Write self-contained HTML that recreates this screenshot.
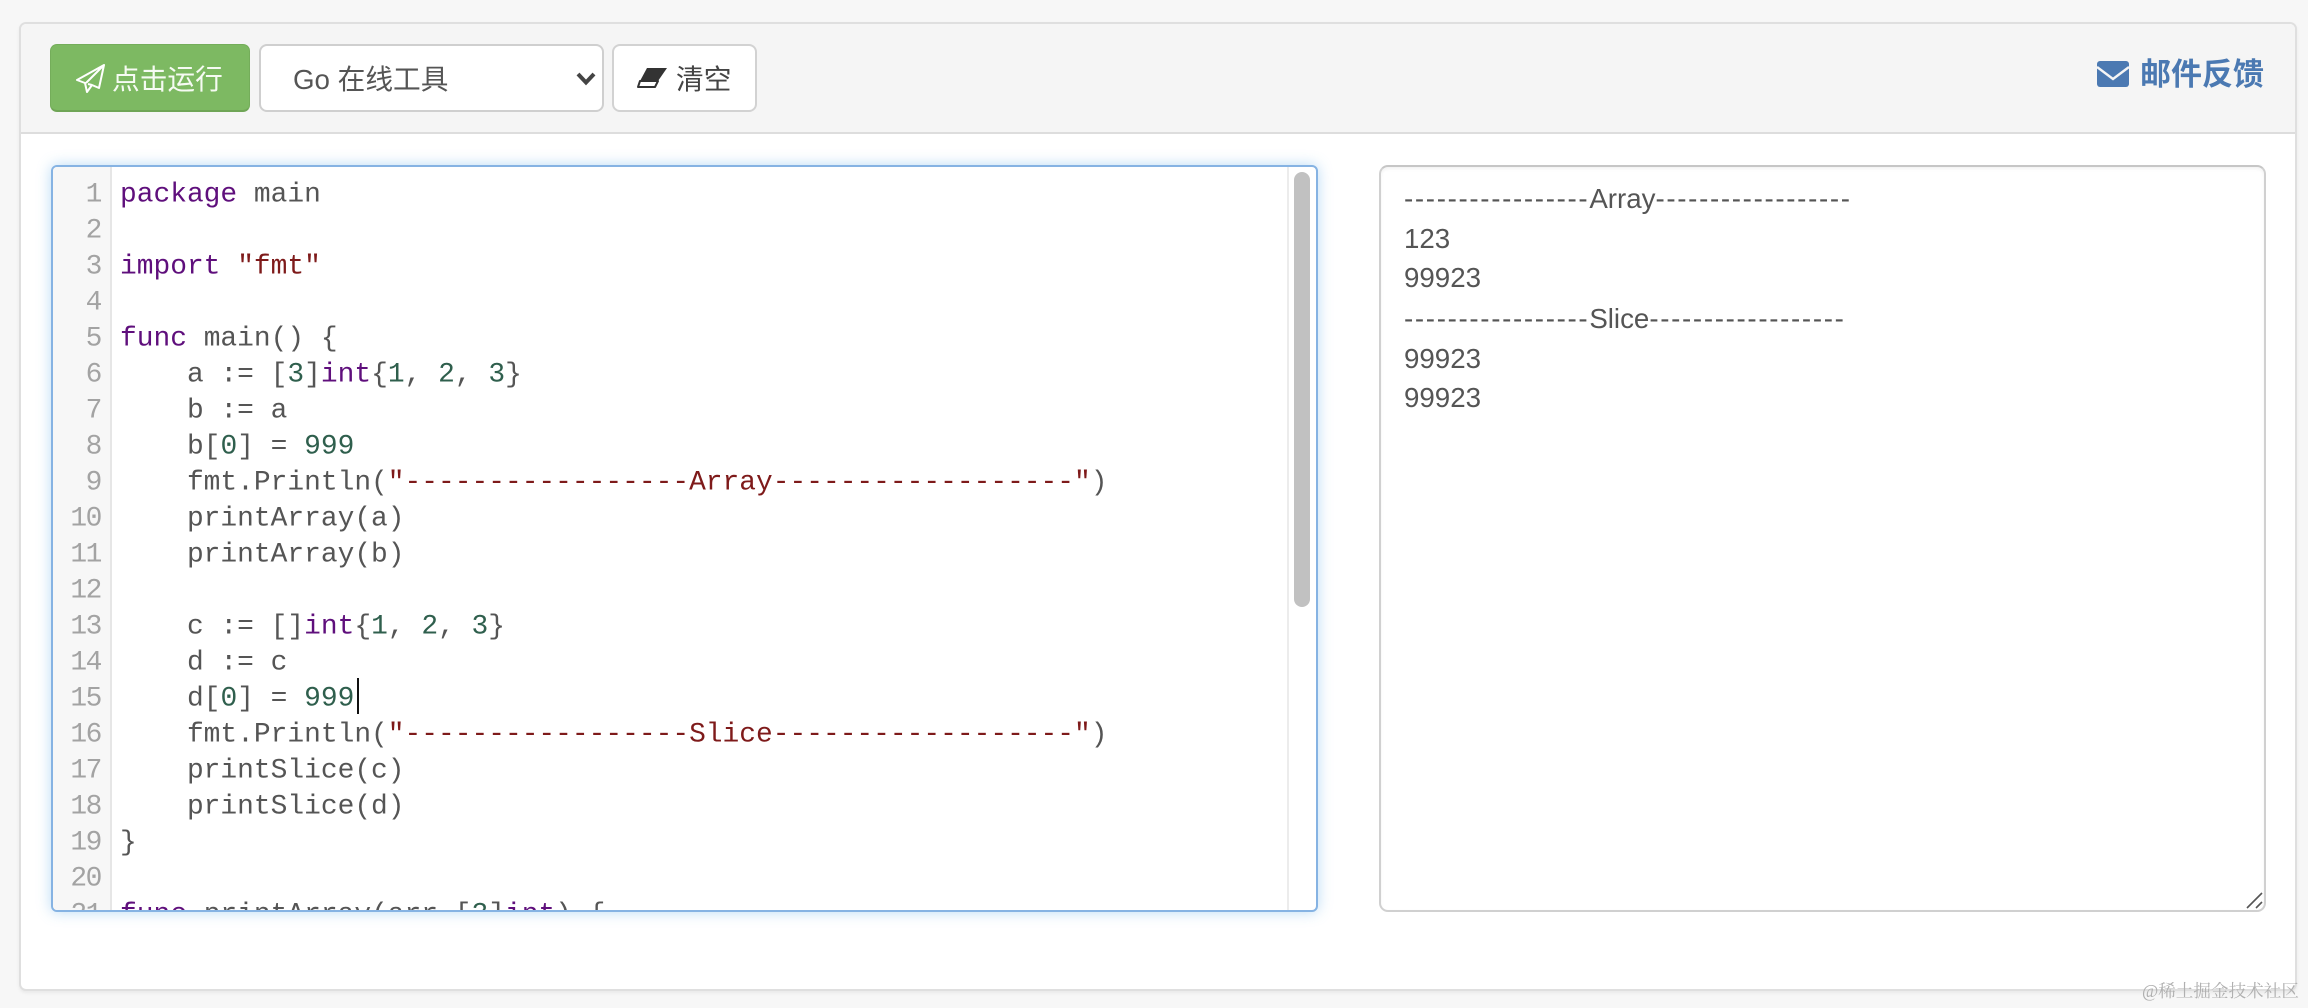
<!DOCTYPE html>
<html lang="zh"><head><meta charset="utf-8"><title>Go 在线工具</title>
<style>
html,body{margin:0;padding:0;width:2308px;height:1008px;overflow:hidden;background:#f7f7f7}
div,span{box-sizing:border-box}
.abs{position:absolute}
#panel{left:19px;top:22px;width:2278px;height:969px;background:#fff;border:2px solid #dfdfdf;border-radius:7px;box-shadow:0 2px 3px rgba(0,0,0,.06)}
#head{left:21px;top:24px;width:2274px;height:110px;background:#f5f5f5;border-bottom:2px solid #dddddd;border-radius:5px 5px 0 0}
.sans{font-family:"Liberation Sans","Noto Sans CJK SC",sans-serif;font-size:27.7px;white-space:pre}
#run{left:50px;top:44px;width:200px;height:68px;background:#7db962;border:1px solid #74ad5a;border-bottom:2px solid #6fa556;border-radius:7px}
#sel{left:259px;top:44px;width:345px;height:68px;background:#fff;border:2px solid #cfcfcf;border-radius:8px}
#clr{left:612px;top:44px;width:145px;height:68px;background:#fff;border:2px solid #d2d2d2;border-radius:8px}
#editor{left:51px;top:165px;width:1267px;height:747px;background:#fff;border:2px solid #86b3e3;border-radius:6px;box-shadow:0 0 14px rgba(102,175,233,.45);overflow:hidden}
#gut{left:0;top:0;width:59px;height:743px;background:#f7f7f7;border-right:2px solid #e6e6e6}
#track{left:1234px;top:0;width:2px;height:743px;background:#ececec}
#thumb{left:1241px;top:5px;width:16px;height:435px;background:#c1c1c1;border-radius:8px}
.ln,.cl{position:absolute;height:36px;line-height:36px;font-family:"Liberation Mono",monospace;font-size:27.9px;white-space:pre;transform:translateY(1.5px)}
.ln{left:0;width:48px;text-align:right;color:#a3a3a3;letter-spacing:-1.4px}
.cl{left:67px;color:#555}
.k{color:#5f0f7c}.s{color:#7e1a1a}.n{color:#2f5f4d}
#out{left:1379px;top:165px;width:887px;height:747px;background:#fff;border:2px solid #d0d0d0;border-top-color:#c6c6c6;border-radius:9px;box-shadow:inset 0 2px 3px rgba(0,0,0,.05)}
.o{position:absolute;left:1404px;height:40px;line-height:40px;color:#555}
.d{letter-spacing:1.68px}
#mail{left:2140px;top:50px;height:50px;line-height:50px;font-family:"Liberation Sans","Noto Sans CJK SC",sans-serif;font-weight:700;font-size:31px;color:#4b79b2;white-space:pre}
#wm{left:2142px;top:980px;height:22px;line-height:22px;font-family:"Liberation Serif","Noto Serif CJK SC",serif;font-size:17.6px;color:#b0b0b0;white-space:pre}
</style></head><body>
<div class="abs" id="panel"></div>
<div class="abs" id="head"></div>

<div class="abs" id="run"></div>
<svg class="abs" style="left:76px;top:64px" width="30" height="29" viewBox="0 0 30 29"><path d="M28 1 L1 16 L9 19 L11 28 L16 21 L23 24 Z M28 1 L10 19 M16 21 L12 20" fill="none" stroke="#fff" stroke-width="2" stroke-linejoin="round"/></svg>
<div class="abs sans" style="left:112px;top:60px;height:40px;line-height:40px;color:#f6fbf3">点击运行</div>

<div class="abs" id="sel"></div>
<div class="abs sans" style="left:293px;top:60px;height:40px;line-height:40px;color:#555">Go 在线工具</div>
<svg class="abs" style="left:575px;top:72px" width="22" height="14" viewBox="0 0 22 14"><path d="M3 2 L11 10.5 L19 2" fill="none" stroke="#444" stroke-width="4"/></svg>

<div class="abs" id="clr"></div>
<svg class="abs" style="left:636px;top:67px" width="33" height="22" viewBox="0 0 33 22"><path d="M11 1 H31 L22 14 H4 Z" fill="#333"/><path d="M4 14 H22 L19 20 H2 Z" fill="#fff" stroke="#333" stroke-width="2" stroke-linejoin="round"/></svg>
<div class="abs sans" style="left:676px;top:60px;height:40px;line-height:40px;color:#444">清空</div>

<svg class="abs" style="left:2097px;top:61px" width="33" height="26" viewBox="0 0 33 26"><rect x="0" y="0" width="32" height="26" rx="3" fill="#4b79b2"/><path d="M0 6 L16 18 L32 6" fill="none" stroke="#f5f5f5" stroke-width="2.4"/></svg>
<div class="abs" id="mail">邮件反馈</div>

<div class="abs" id="editor">
  <div class="abs" id="gut"></div>
  <div class="abs" id="track"></div>
  <div class="abs" id="thumb"></div>
  <div class="ln" style="top:9px">1</div><div class="cl" style="top:9px"><span class="k">package</span> main</div>
  <div class="ln" style="top:45px">2</div>
  <div class="ln" style="top:81px">3</div><div class="cl" style="top:81px"><span class="k">import</span> <span class="s">"fmt"</span></div>
  <div class="ln" style="top:117px">4</div>
  <div class="ln" style="top:153px">5</div><div class="cl" style="top:153px"><span class="k">func</span> main() {</div>
  <div class="ln" style="top:189px">6</div><div class="cl" style="top:189px">    a := [<span class="n">3</span>]<span class="k">int</span>{<span class="n">1</span>, <span class="n">2</span>, <span class="n">3</span>}</div>
  <div class="ln" style="top:225px">7</div><div class="cl" style="top:225px">    b := a</div>
  <div class="ln" style="top:261px">8</div><div class="cl" style="top:261px">    b[<span class="n">0</span>] = <span class="n">999</span></div>
  <div class="ln" style="top:297px">9</div><div class="cl" style="top:297px">    fmt.Println(<span class="s">"-----------------Array------------------"</span>)</div>
  <div class="ln" style="top:333px">10</div><div class="cl" style="top:333px">    printArray(a)</div>
  <div class="ln" style="top:369px">11</div><div class="cl" style="top:369px">    printArray(b)</div>
  <div class="ln" style="top:405px">12</div>
  <div class="ln" style="top:441px">13</div><div class="cl" style="top:441px">    c := []<span class="k">int</span>{<span class="n">1</span>, <span class="n">2</span>, <span class="n">3</span>}</div>
  <div class="ln" style="top:477px">14</div><div class="cl" style="top:477px">    d := c</div>
  <div class="ln" style="top:513px">15</div><div class="cl" style="top:513px">    d[<span class="n">0</span>] = <span class="n">999</span></div>
  <div class="ln" style="top:549px">16</div><div class="cl" style="top:549px">    fmt.Println(<span class="s">"-----------------Slice------------------"</span>)</div>
  <div class="ln" style="top:585px">17</div><div class="cl" style="top:585px">    printSlice(c)</div>
  <div class="ln" style="top:621px">18</div><div class="cl" style="top:621px">    printSlice(d)</div>
  <div class="ln" style="top:657px">19</div><div class="cl" style="top:657px">}</div>
  <div class="ln" style="top:693px">20</div>
  <div class="ln" style="top:729px">21</div><div class="cl" style="top:729px"><span class="k">func</span> printArray(arr [<span class="n">3</span>]<span class="k">int</span>) {</div>
  <div class="abs" style="left:304px;top:511px;width:2px;height:36px;background:#111"></div>
</div>

<div class="abs" id="out"></div>
<div class="o sans" style="top:179px"><span class="d">-----------------</span>Array<span class="d">------------------</span></div>
<div class="o sans" style="top:219px">123</div>
<div class="o sans" style="top:258px">99923</div>
<div class="o sans" style="top:299px"><span class="d">-----------------</span>Slice<span class="d">------------------</span></div>
<div class="o sans" style="top:339px">99923</div>
<div class="o sans" style="top:378px">99923</div>
<svg class="abs" style="left:2246px;top:892px" width="18" height="18" viewBox="0 0 18 18"><path d="M1 16 L16 1 M10 16 L16 10" stroke="#555" stroke-width="1.6" fill="none"/></svg>

<div class="abs" id="wm">@稀土掘金技术社区</div>
</body></html>
